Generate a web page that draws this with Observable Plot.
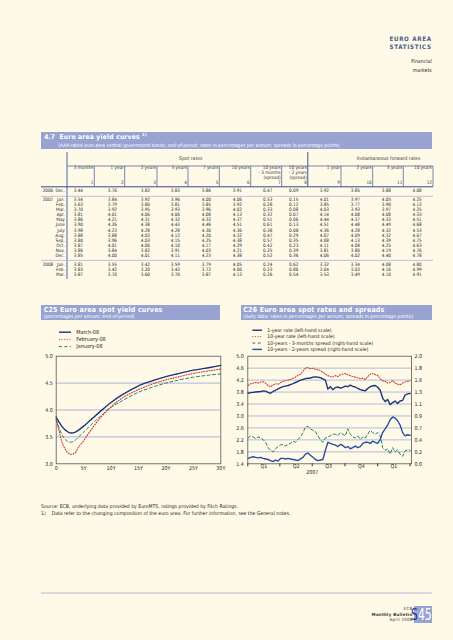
<!DOCTYPE html>
<html><head><meta charset="utf-8">
<script src="https://cdn.jsdelivr.net/npm/d3@7"></script>
<script src="https://cdn.jsdelivr.net/npm/@observablehq/plot@0.6"></script>
<style>
html,body{margin:0;padding:0;background:#fffae7;}
#page{position:relative;width:453px;height:640px;overflow:hidden;background:#fffae7;font-family:"Liberation Sans Narrow","DejaVu Sans Condensed","Liberation Sans",Arial,sans-serif;color:#1e1e1e;}
.t{position:absolute;white-space:nowrap;line-height:1;}
.box{position:absolute;}
sup{font-size:65%;vertical-align:top;position:relative;top:-0.2em;}
</style></head><body><div id="page"></div>
<script>
// ---------------- DATA ----------------
// Table 4.7
const years = ["2006","2007","","","","","","","","","","","","2008","",""];
const months = ["Dec.","Jan.","Feb.","Mar.","Apr.","May","June","July","Aug.","Sep.","Oct.","Nov.","Dec.","Jan.","Feb.","Mar."];
const spot3m  = [3.44,3.54,3.63,3.70,3.81,3.86,3.90,3.98,3.88,3.80,3.87,3.86,3.85,3.81,3.83,3.87];
const spot1y  = [3.76,3.84,3.79,3.92,4.01,4.21,4.26,4.23,3.88,3.96,4.01,3.84,4.00,3.55,3.42,3.70];
const spot2y  = [3.82,3.92,3.80,3.95,4.06,4.31,4.38,4.28,4.03,4.03,4.06,3.82,4.01,3.42,3.20,3.60];
const spot5y  = [3.83,3.96,3.81,3.93,4.06,4.32,4.43,4.28,4.12,4.15,4.10,3.91,4.11,3.59,3.43,3.70];
const spot7y  = [3.86,4.00,3.85,3.96,4.08,4.33,4.46,4.30,4.20,4.25,4.17,4.03,4.23,3.79,3.72,3.87];
const spot10y = [3.91,4.06,3.92,4.02,4.13,4.37,4.51,4.36,4.32,4.38,4.29,4.21,4.38,4.05,4.06,4.13];
const spr10y3m = [0.47,0.53,0.28,0.33,0.32,0.51,0.61,0.38,0.47,0.57,0.42,0.35,0.52,0.24,0.23,0.26];
const spr10y2y = [0.09,0.15,0.12,0.08,0.07,0.06,0.13,0.08,0.29,0.35,0.23,0.39,0.36,0.62,0.86,0.54];
const fwd1y  = [3.92,4.01,3.85,4.03,4.14,4.44,4.51,4.36,4.07,4.08,4.11,3.81,4.06,3.32,3.04,3.53];
const fwd2y  = [3.85,3.97,3.77,3.93,4.08,4.37,4.48,4.28,4.09,4.13,4.08,3.80,4.02,3.34,3.03,3.49];
const fwd5y  = [3.88,4.05,3.90,3.97,4.08,4.33,4.49,4.32,4.32,4.39,4.25,4.19,4.40,4.08,4.16,4.10];
const fwd10y = [4.08,4.25,4.13,4.25,4.33,4.51,4.68,4.53,4.67,4.75,4.63,4.76,4.78,4.80,4.99,4.91];
const tableCols = [spot3m,spot1y,spot2y,spot5y,spot7y,spot10y,spr10y3m,spr10y2y,fwd1y,fwd2y,fwd5y,fwd10y];
const colHeaders = [["3 months"],["1 year"],["2 years"],["5 years"],["7 years"],["10 years"],
  ["10 years","- 3 months","(spread)"],["10 years","- 2 years","(spread)"],
  ["1 year"],["2 years"],["5 years"],["10 years"]];

// C25 spot yield curves
const maturities = [0,0.25,0.5,1,1.5,2,2.5,3,3.5,4,5,6,7,8,10,12,15,18,20,22,25,28,30];
const march08 = [3.87,3.82,3.78,3.70,3.64,3.60,3.575,3.575,3.59,3.62,3.70,3.79,3.88,3.97,4.14,4.28,4.45,4.56,4.62,4.67,4.74,4.79,4.83];
const february08 = [3.83,3.72,3.62,3.42,3.30,3.22,3.18,3.18,3.21,3.30,3.43,3.58,3.72,3.85,4.06,4.22,4.38,4.50,4.56,4.61,4.68,4.73,4.76];
const january08 = [3.81,3.75,3.68,3.55,3.47,3.42,3.40,3.41,3.44,3.49,3.59,3.69,3.79,3.88,4.05,4.17,4.33,4.44,4.50,4.55,4.61,4.65,4.67];
const c25yTicks = [3.0,3.5,4.0,4.5,5.0];
const c25xTicks = [0,5,10,15,20,25,30];
const c25xLabels = ["0","5Y","10Y","15Y","20Y","25Y","30Y"];

// C26 spot rates and spreads (weekly readings, 2 Jan 2007 - 1 Apr 2008)
const firstWeek = "2007-01-02";
const rate1y = [3.76,3.78,3.79,3.80,3.81, 3.82,3.84,3.83,3.79, 3.76,3.82,3.86,3.91, 3.95,3.98,4.00,4.02,
  4.05,4.08,4.12,4.16,4.20, 4.22,4.25,4.26,4.27, 4.30,4.31,4.30,4.28,4.24, 4.20,3.90,3.98,3.88,
  3.95,3.97,3.93,3.96, 4.00,3.98,4.03,3.99,3.97, 3.92,3.88,3.86,3.84, 3.92,3.98,4.01,4.02,
  3.96,3.86,3.60,3.48,3.55, 3.38,3.45,3.50,3.42, 3.50,3.52,3.70,3.74, 3.75];
const rate10y = [4.02,4.08,4.10,4.12,4.10, 4.13,4.15,4.10,4.02, 3.98,4.04,4.08,4.06, 4.12,4.16,4.18,4.20,
  4.22,4.26,4.30,4.36,4.40, 4.50,4.60,4.62,4.58, 4.60,4.56,4.55,4.52,4.46, 4.40,4.35,4.32,4.30,
  4.35,4.32,4.38,4.40, 4.42,4.38,4.35,4.32,4.30, 4.28,4.25,4.26,4.22, 4.32,4.40,4.42,4.38,
  4.36,4.24,4.18,4.16,4.10, 4.12,4.18,4.10,4.06, 4.04,4.10,4.14,4.16, 4.18];
const spread3m = [0.48,0.52,0.50,0.47,0.50, 0.48,0.45,0.40,0.30, 0.25,0.22,0.28,0.32, 0.35,0.36,0.33,0.36,
  0.38,0.42,0.40,0.45,0.50, 0.58,0.68,0.70,0.65, 0.62,0.60,0.52,0.45,0.40, 0.48,0.50,0.52,0.55,
  0.55,0.52,0.58,0.55, 0.52,0.65,0.55,0.50,0.48, 0.52,0.45,0.50,0.48, 0.55,0.62,0.58,0.55,
  0.58,0.52,0.30,0.25,0.28, 0.18,0.30,0.22,0.26, 0.18,0.14,0.24,0.26, 0.25];
const spread2y = [0.10,0.12,0.13,0.12,0.11, 0.12,0.10,0.09,0.08, 0.06,0.04,0.07,0.05, 0.10,0.10,0.09,0.10,
  0.09,0.08,0.07,0.06,0.09, 0.12,0.18,0.20,0.16, 0.12,0.08,0.06,0.07,0.08, 0.25,0.40,0.38,0.36,
  0.35,0.32,0.36,0.34, 0.30,0.32,0.28,0.30,0.33, 0.30,0.32,0.38,0.40, 0.40,0.38,0.42,0.40,
  0.38,0.45,0.58,0.65,0.72, 0.82,0.87,0.85,0.80, 0.72,0.58,0.52,0.54, 0.53];
const quarterStarts = ["2007-01-01","2007-04-01","2007-07-01","2007-10-01","2008-01-01","2008-04-01"];
const quarterLabels = ["Q1","Q2","Q3","Q4","Q1"];
const yearLabel = "2007";
const c26LeftTicks = [1.4,1.8,2.2,2.6,3.0,3.4,3.8,4.2,4.6,5.0];
const c26RightMax = 2.0;

// ---------------- STYLE / LAYOUT ----------------
const FONT = '"Liberation Sans Narrow","DejaVu Sans Condensed","Liberation Sans",Arial,sans-serif';
const BAND = "#98a3d1", GRID = "#a9b3da", NAVY = "#1b3580", BLUE2 = "#2a4fa0", RED = "#cc3a32", GREEN = "#2b7b5e";
const page = document.getElementById("page");
const W = 453, H = 640;

function txt(html, x, y, o = {}) {
  const d = document.createElement("div");
  d.className = "t";
  d.innerHTML = html;
  const fs = o.fs || 5;
  d.style.fontSize = fs + "px";
  d.style.top = (y - fs * 0.49) + "px";
  if (o.align === "right") d.style.right = (W - x) + "px";
  else if (o.align === "center") { d.style.left = x + "px"; d.style.transform = "translateX(-50%)"; }
  else d.style.left = x + "px";
  if (o.color) d.style.color = o.color;
  if (o.bold) d.style.fontWeight = "bold";
  if (o.ls) d.style.letterSpacing = o.ls + "px";
  if (o.sy) { d.style.transform = `scaleY(${o.sy})`; d.style.transformOrigin = "50% 50%"; }
  page.appendChild(d);
  return d;
}
function box(x, y, w, h, color) {
  const d = document.createElement("div");
  d.className = "box";
  Object.assign(d.style, {left: x + "px", top: y + "px", width: w + "px", height: h + "px", background: color});
  page.appendChild(d);
}
const overlay = d3.select(page).append("svg")
  .attr("width", W).attr("height", H)
  .style("position", "absolute").style("left", 0).style("top", 0).style("pointer-events", "none");
function line(x1, y1, x2, y2, color, w, dash) {
  const l = overlay.append("line").attr("x1", x1).attr("y1", y1).attr("x2", x2).attr("y2", y2)
    .attr("stroke", color).attr("stroke-width", w);
  if (dash) l.attr("stroke-dasharray", dash);
}

// ---------------- PAGE HEADER ----------------
txt("EURO AREA", 431.7, 38.8, {align: "right", fs: 6.2, bold: true, ls: 0.7, color: "#4b5b8c"});
txt("STATISTICS", 431.7, 46.8, {align: "right", fs: 6.2, bold: true, ls: 0.7, color: "#4b5b8c"});
txt("Financial", 431.7, 62, {align: "right", fs: 5.2});
txt("markets", 431.7, 70.3, {align: "right", fs: 5.2});

// ---------------- TABLE 4.7 ----------------
box(41, 132, 390.7, 16.8, BAND);
txt("4.7", 44.3, 136.8, {fs: 6.6, bold: true, color: "#fff"});
txt("Euro area yield curves <sup>1)</sup>", 59.5, 136.8, {fs: 6.6, bold: true, color: "#fff", ls: 0.25});
txt("(AAA-rated euro area central government bonds; end-of-period; rates in percentages per annum; spreads in percentage points)", 58.3, 145.2, {fs: 4.9, color: "#fff"});

const colLines = [94.3,124.7,157,188,219.3,250.7,281.7,307.8,341,372.7,403.3,433];
const numRight = [83,117,150,180,211,242,272.3,298.3,329,360,391,421.7];
const rowY = [191.7].concat(d3.range(12).map(i => 200.5 + 5.05 * i), [265, 270, 275]);

txt("Spot rates", 190.7, 158.6, {align: "center", fs: 5, color: "#333"});
txt("Instantaneous forward rates", 388.5, 158.4, {align: "center", fs: 5, color: "#333"});
line(67, 166, 433, 166, "#3e5896", 0.7);
colLines.forEach((x, c) => {
  line(x, c === 7 ? 152 : 166, x, 186.5, "#3e5896", c === 7 ? 1 : 0.7);
  colHeaders[c].forEach((s, k) => txt(s, x - 1, 168.7 + 4.8 * k, {align: "right", fs: 4.6, color: "#333"}));
  txt(String(c + 1), x - 1, 183.4, {align: "right", fs: 4.6, color: "#333"});
});
line(67, 152, 67, 279, "#4a66a6", 1);
line(41, 186.8, 433, 186.8, "#2f4a8c", 1);
line(41, 196.3, 433, 196.3, "#aab5da", 0.8);
line(41, 260.4, 433, 260.4, "#aab5da", 0.8);
const f2 = d3.format(".2f");
rowY.forEach((y, r) => {
  if (years[r]) txt(years[r], 42.7, y, {fs: 4.6});
  txt(months[r], 64.7, y, {align: "right", fs: 4.6});
  tableCols.forEach((col, c) => txt(f2(col[r]), numRight[c], y, {align: "right", fs: 4.6}));
});

// ---------------- CHART TITLES & LEGENDS ----------------
box(41, 304.5, 178.7, 15.7, BAND);
txt("C25 Euro area spot yield curves", 43.7, 310, {fs: 7, bold: true, color: "#fff", ls: 0.2});
txt("(percentages per annum; end-of-period)", 43.7, 316.4, {fs: 5, color: "#fff"});
box(240.7, 304.5, 191.3, 15.7, BAND);
txt("C26 Euro area spot rates and spreads", 243.3, 310, {fs: 7, bold: true, color: "#fff", ls: 0.2});
txt("(daily data; rates in percentages per annum; spreads in percentage points)", 243.3, 316.4, {fs: 5, color: "#fff"});

const leg25 = [["March-08", NAVY, null, 1.4], ["February-08", RED, "1,1.6", 1], ["January-08", GREEN, "3,2.4", 1]];
leg25.forEach(([s, c, dash, w], i) => {
  const y = 332.2 + 7.2 * i;
  line(59, y, 71, y, c, w, dash);
  txt(s, 76.3, y, {fs: 5.4});
});
const leg26 = [["1-year rate (left-hand scale)", NAVY, null, 1.4],
  ["10-year rate (left-hand scale)", RED, "1,1.6", 1],
  ["10-years - 3-months spread (right-hand scale)", GREEN, "3,2.4", 1],
  ["10-years - 2-years spread (right-hand scale)", BLUE2, null, 1.4]];
leg26.forEach(([s, c, dash, w], i) => {
  const y = 330.2 + 6.4 * i;
  line(252.3, y, 262, y, c, w, dash);
  txt(s, 267.3, y, {fs: 5.1});
});

// ---------------- C25 ----------------
const rows25 = (vals) => maturities.map((m, i) => ({m, v: vals[i]}));
const c25 = Plot.plot({
  width: 200, height: 130,
  marginLeft: 25.7, marginRight: 9.7, marginTop: 5.7, marginBottom: 16.7,
  x: {domain: [0, 30], label: null},
  y: {domain: [3, 5], label: null},
  style: `background:transparent;font-family:${FONT};font-size:5.3px;color:#222;overflow:visible;`,
  marks: [
    Plot.ruleY(c25yTicks.slice(1, -1), {stroke: GRID, strokeWidth: 1}),
    Plot.line(rows25(january08), {x: "m", y: "v", stroke: GREEN, strokeWidth: 1, strokeDasharray: "3,2.4", curve: "catmull-rom"}),
    Plot.line(rows25(february08), {x: "m", y: "v", stroke: RED, strokeWidth: 1.1, strokeDasharray: "1,1.6", curve: "catmull-rom"}),
    Plot.line(rows25(march08), {x: "m", y: "v", stroke: NAVY, strokeWidth: 1.4, curve: "catmull-rom"}),
    Plot.frame({stroke: "#555", strokeWidth: 0.8}),
    Plot.axisY(c25yTicks, {tickSize: 0, tickPadding: 3.4, tickFormat: d3.format(".1f"), label: null}),
    Plot.axisX(c25xTicks, {tickSize: 0, tickPadding: 2.2, tickFormat: d => c25xLabels[c25xTicks.indexOf(d)], label: null})
  ]
});
Object.assign(c25.style, {position: "absolute", left: "30px", top: "350px"});
page.appendChild(c25);

// ---------------- C26 ----------------
const t0 = new Date(firstWeek + "T00:00:00Z").getTime();
const weekDates = rate1y.map((_, i) => new Date(t0 + i * 7 * 864e5));
const toLeft = r => 1.4 + r * (5.0 - 1.4) / c26RightMax;
const fromLeft = v => (v - 1.4) * c26RightMax / (5.0 - 1.4);
const rightTickPos = c26LeftTicks;
const qDates = quarterStarts.map(s => new Date(s + "T00:00:00Z"));
const qMid = quarterLabels.map((label, i) => ({label, date: new Date((qDates[i].getTime() + qDates[i + 1].getTime()) / 2)}));
const ser = (vals, f = v => v) => vals.map((v, i) => ({date: weekDates[i], v: f(v)}));
const f1 = d3.format(".1f");
const c26 = Plot.plot({
  width: 228, height: 130,
  marginLeft: 22.3, marginRight: 42, marginTop: 5.7, marginBottom: 16.7,
  x: {type: "utc", domain: [new Date("2007-01-01T00:00:00Z"), new Date("2008-04-05T00:00:00Z")], label: null},
  y: {domain: [1.4, 5.0], label: null},
  style: `background:transparent;font-family:${FONT};font-size:5.3px;color:#222;overflow:visible;`,
  marks: [
    Plot.ruleY(c26LeftTicks.slice(1, -1), {stroke: GRID, strokeWidth: 0.9}),
    Plot.line(ser(rate10y), {x: "date", y: "v", stroke: RED, strokeWidth: 1.1, strokeDasharray: "1,1.6"}),
    Plot.line(ser(rate1y), {x: "date", y: "v", stroke: NAVY, strokeWidth: 1.4}),
    Plot.line(ser(spread3m, toLeft), {x: "date", y: "v", stroke: GREEN, strokeWidth: 1, strokeDasharray: "3,2.4"}),
    Plot.line(ser(spread2y, toLeft), {x: "date", y: "v", stroke: BLUE2, strokeWidth: 1.4}),
    Plot.frame({stroke: "#555", strokeWidth: 0.8}),
    Plot.axisY(c26LeftTicks, {anchor: "left", tickSize: 0, tickPadding: 4, tickFormat: f1, label: null}),
    Plot.axisY(rightTickPos, {anchor: "right", tickSize: 0, tickPadding: 3, tickFormat: d => f1(fromLeft(d)), label: null}),
    Plot.axisX(qDates, {tickSize: 3, tickFormat: () => "", label: null, stroke: "#333"}),
    Plot.text(qMid, {x: "date", text: "label", frameAnchor: "bottom", dy: 4.2, fill: "#222"}),
    Plot.text([yearLabel], {x: () => new Date("2007-07-01T00:00:00Z"), text: d => d, frameAnchor: "bottom", dy: 10.5, fill: "#222"})
  ]
});
Object.assign(c26.style, {position: "absolute", left: "225px", top: "350px"});
page.appendChild(c26);

// ---------------- NOTES & FOOTER ----------------
txt("Source: ECB, underlying data provided by EuroMTS, ratings provided by Fitch Ratings.", 41, 506.7, {fs: 5.1});
txt("1)", 41, 513.3, {fs: 5.1});
txt("Data refer to the changing composition of the euro area. For further information, see the General notes.", 51.7, 513.3, {fs: 5.1});
line(41, 593, 431.7, 593, "#a5aed6", 0.9);
txt("ECB", 412.5, 609.3, {align: "right", fs: 4.3, ls: 0.3, color: "#333"});
txt("Monthly Bulletin", 412.5, 614.7, {align: "right", fs: 4.3, bold: true, ls: 0.3, color: "#333"});
txt("April 2008", 412.5, 620, {align: "right", fs: 4.3, ls: 0.3, color: "#333"});
box(413.7, 606.3, 18, 16.7, BAND);
txt('<span style="color:#23378a">S</span>45', 431.6, 615, {align: "right", fs: 12, sy: 1.25, color: "#fff"});
</script></body></html>
